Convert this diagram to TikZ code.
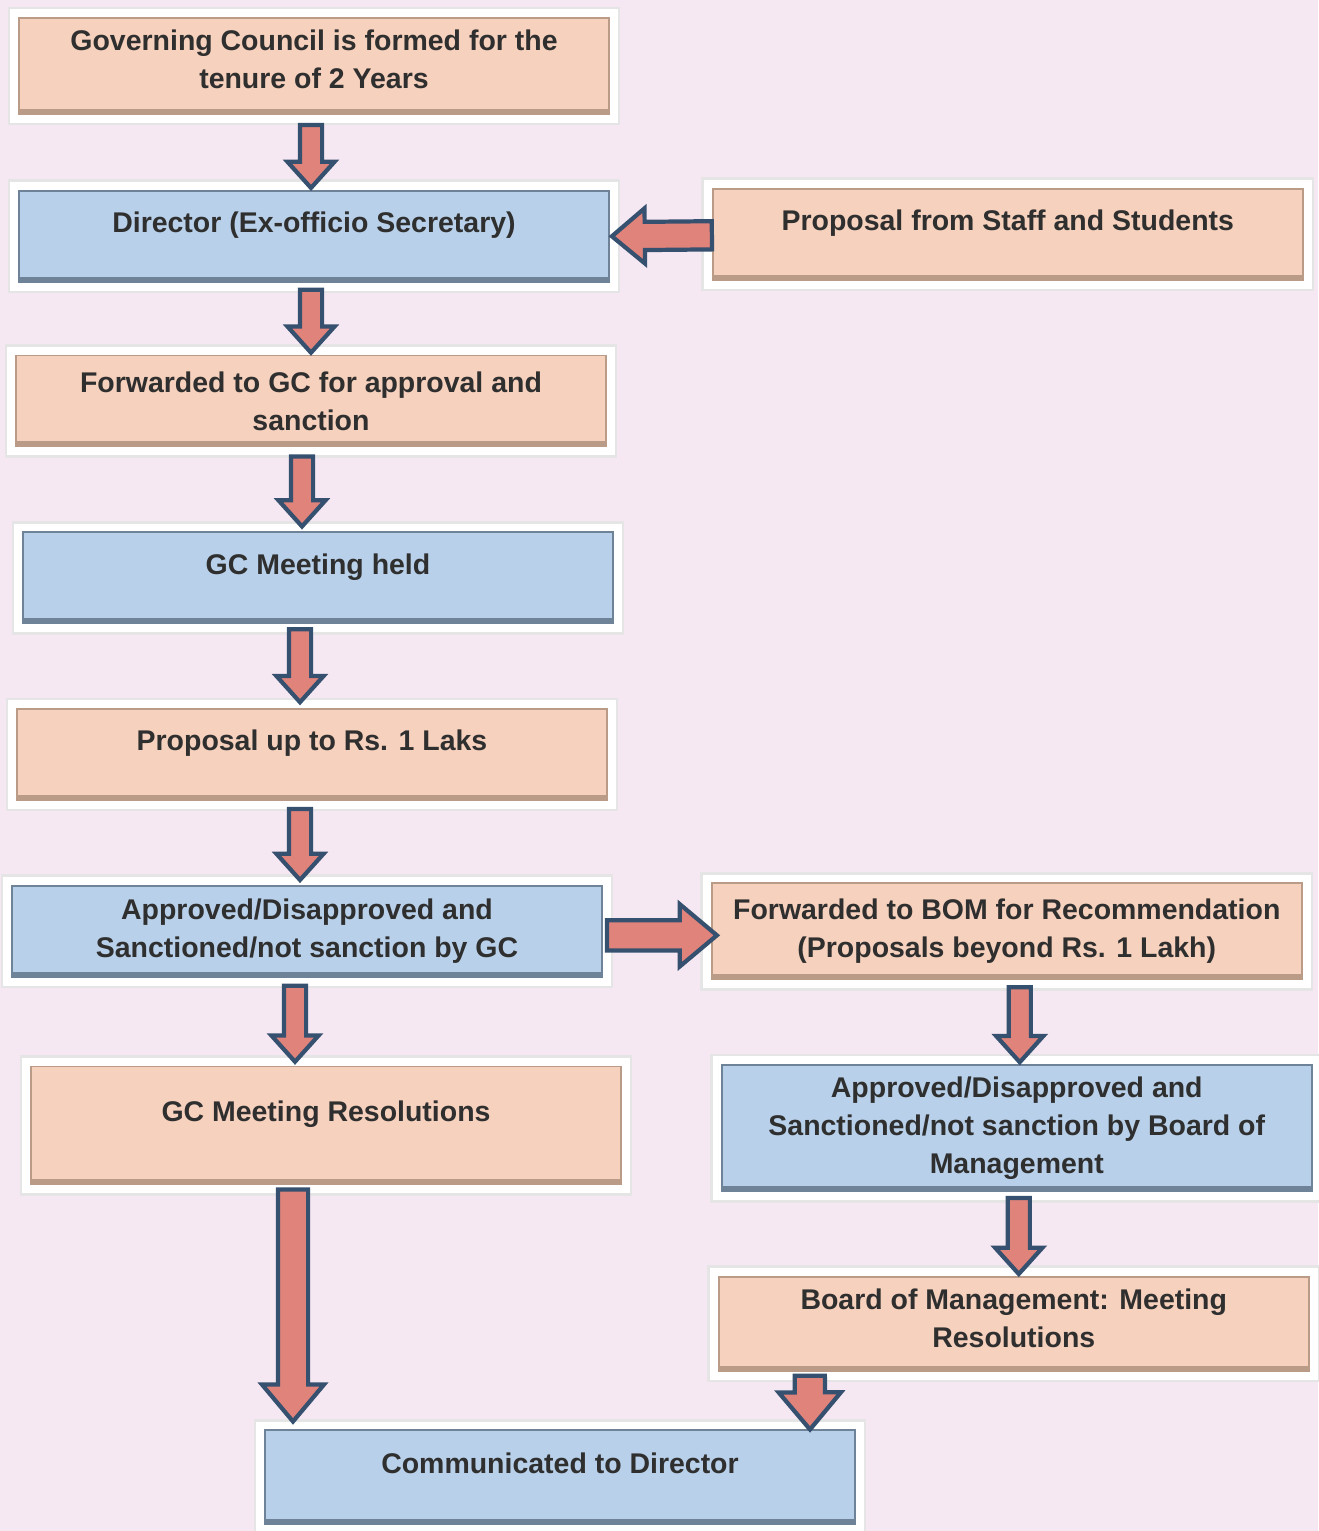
\documentclass[tikz,border=0pt]{standalone}
\usepackage{fontspec}
\setmainfont{Liberation Sans}
\usetikzlibrary{shapes.arrows,positioning,calc}

\definecolor{paper}{HTML}{F6E8F2}
\definecolor{peach}{HTML}{F6D1BD}
\definecolor{peachedge}{HTML}{B99B87}
\definecolor{skyblue}{HTML}{B8D0E9}
\definecolor{skyedge}{HTML}{6E8298}
\definecolor{arrfill}{HTML}{E0837B}
\definecolor{arredge}{HTML}{36506F}
\definecolor{ink}{HTML}{2F2F2F}

% block arrow between two named coordinates
\newcommand{\blkarrow}[3][]{%
  \path let \p1=($(#3)-(#2)$), \n1={veclen(\x1,\y1)} in
    (#2) -- (#3) node[blkarr,#1,pos=0,anchor=tail,sloped,allow upside down,minimum height=\n1] {};}

\tikzset{
  box/.style={rectangle, minimum width=5.9cm, minimum height=0.91cm, align=center,
    text=ink, font=\fontsize{8.1pt}{10.8pt}\selectfont\bfseries, line width=0.5pt,
    preaction={draw=black!10, line width=6.5pt},
    preaction={draw=white, line width=5pt}},
  peachbox/.style={box, fill=peach, draw=peachedge,
    path picture={\draw[peachedge, line width=3pt] (path picture bounding box.south west) -- (path picture bounding box.south east);}},
  bluebox/.style={box, fill=skyblue, draw=skyedge,
    path picture={\draw[skyedge, line width=3pt] (path picture bounding box.south west) -- (path picture bounding box.south east);}},
  oneline/.style={text depth=8pt},
  blkarr/.style={single arrow, draw=arredge, fill=arrfill, line width=1.2pt,
    inner xsep=0pt, inner ysep=0.09cm, outer sep=0pt, minimum width=0pt,
    single arrow head extend=0.125cm, single arrow tip angle=84,
    single arrow head indent=0pt},
  bigarr/.style={inner ysep=0.13cm, single arrow head extend=0.16cm,
    single arrow tip angle=80}
}

\begin{document}
\begin{tikzpicture}
\useasboundingbox (0,0) rectangle (13.18,-15.31);
\fill[paper] (0,0) rectangle (13.18,-15.31);

% left column
\node[peachbox,text depth=4pt] (gc) at (3.14,-0.66) {Governing Council is formed for the\\tenure of 2 Years};
\node[bluebox,oneline] (dir) [below=0.75cm of gc] {Director (Ex-officio Secretary)};
\node[peachbox,oneline] (staff) [right=1.02cm of dir, yshift=0.02cm] {Proposal from Staff and Students};
\node[peachbox] (fwd) [below=0.72cm of dir, xshift=-0.03cm] {Forwarded to GC for approval and\\sanction};
\node[bluebox,oneline] (meet) [below=0.84cm of fwd, xshift=0.07cm] {GC Meeting held};
\node[peachbox,oneline] (upto) [below=0.84cm of meet, xshift=-0.06cm] {Proposal up to Rs. 1 Laks};
\node[bluebox] (appgc) [below=0.84cm of upto, xshift=-0.05cm] {Approved/Disapproved and\\Sanctioned/not sanction by GC};
\node[peachbox,oneline,minimum height=1.18cm] (res) [below=0.88cm of appgc, xshift=0.19cm] {GC Meeting Resolutions};

% right column
\node[peachbox,minimum height=0.96cm] (bom) [right=1.08cm of appgc] {Forwarded to BOM for Recommendation\\(Proposals beyond Rs. 1 Lakh)};
\node[bluebox,minimum height=1.22cm] (appbom) [below=0.84cm of bom, xshift=0.10cm] {Approved/Disapproved and\\Sanctioned/not sanction by Board of\\Management};
\node[peachbox,text depth=3pt,minimum height=0.94cm] (bomres) [below=0.84cm of appbom, xshift=-0.03cm] {Board of Management: Meeting\\Resolutions};

\node[bluebox,oneline,minimum height=0.94cm] (comm) [below=2.44cm of res, xshift=2.34cm] {Communicated to Director};

% arrow ends
\coordinate (a1s) at ($(gc.south)+(-0.03,-0.1)$);
\coordinate (a1e) at ($(dir.north)+(-0.03,0.02)$);
\coordinate (a3s) at ($(dir.south)+(-0.03,-0.07)$);
\coordinate (a3e) at ($(fwd.north)+(0,0.02)$);
\coordinate (a4s) at ($(fwd.south)+(-0.09,-0.09)$);
\coordinate (a4e) at ($(meet.north)+(-0.16,0.05)$);
\coordinate (a5s) at ($(meet.south)+(-0.18,-0.05)$);
\coordinate (a5e) at ($(upto.north)+(-0.12,0.06)$);
\coordinate (a6s) at ($(upto.south)+(-0.12,-0.08)$);
\coordinate (a6e) at ($(appgc.north)+(-0.07,0.05)$);
\coordinate (a7s) at ($(appgc.east)+(0.04,-0.04)$);
\coordinate (a7e) at ($(bom.west)+(0.06,-0.04)$);
\coordinate (a8s) at ($(appgc.south)+(-0.12,-0.08)$);
\coordinate (a8e) at ($(res.north)+(-0.31,0.04)$);
\coordinate (a9s) at ($(bom.south)+(0.13,-0.07)$);
\coordinate (a9e) at ($(appbom.north)+(0.03,0.02)$);
\coordinate (a10s) at ($(appbom.south)+(0.02,-0.06)$);
\coordinate (a10e) at ($(bomres.north)+(0.05,0.02)$);
\coordinate (a11s) at ($(res.south)+(-0.33,-0.04)$);
\coordinate (a11e) at ($(comm.north)+(-2.67,0.08)$);
\coordinate (a12s) at ($(bomres.south)+(-2.04,-0.04)$);
\coordinate (a12e) at ($(comm.north)+(2.50,0)$);
\coordinate (a2s) at ($(staff.west)+(0,-0.01)$);
\coordinate (a2e) at ($(dir.east)+(0.02,0)$);

\blkarrow{a1s}{a1e}
\blkarrow[bigarr,inner ysep=0.12cm,single arrow head extend=0.135cm]{a2s}{a2e}
\blkarrow{a3s}{a3e}
\blkarrow{a4s}{a4e}
\blkarrow{a5s}{a5e}
\blkarrow{a6s}{a6e}
\blkarrow[bigarr]{a7s}{a7e}
\blkarrow{a8s}{a8e}
\blkarrow{a9s}{a9e}
\blkarrow{a10s}{a10e}
\blkarrow[bigarr]{a11s}{a11e}
\blkarrow[bigarr]{a12s}{a12e}
\end{tikzpicture}
\end{document}
